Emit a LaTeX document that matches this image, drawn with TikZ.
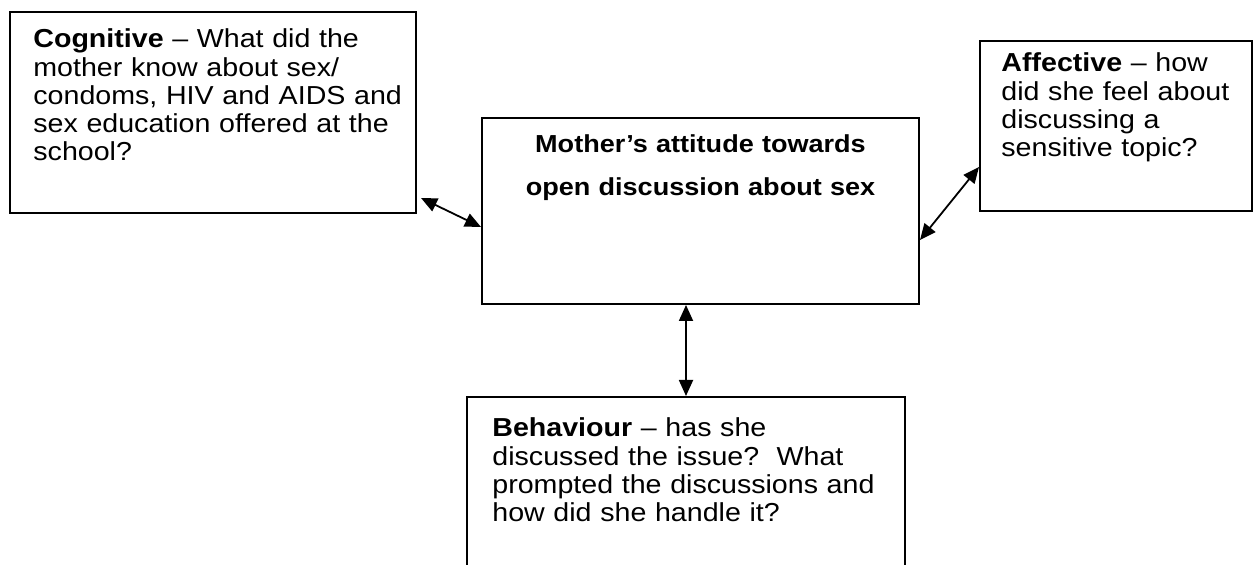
\documentclass[tikz,border=0pt]{standalone}
\usepackage{fontspec}
\setmainfont{Liberation Sans}[FakeStretch=1.1]
\usetikzlibrary{arrows.meta}
\begin{document}
\begin{tikzpicture}[x=0.5pt,y=-0.5pt,
  box/.style={draw, line width=1pt, inner sep=0pt},
  txt/.style={anchor=base west, inner sep=0pt, text width=215pt, align=left,
    font=\fontsize{13pt}{14.1pt}\selectfont},
  ctrtxt/.style={anchor=base, inner sep=0pt, text width=215pt, align=center,
    font=\bfseries\fontsize{12.3pt}{21.5pt}\selectfont},
  arr/.style={line width=0.9pt,
    arrows={Triangle[length=8pt,width=7pt]-Triangle[length=8pt,width=7pt]}}]
\useasboundingbox[fill=white] (0,0) rectangle (1253,565);
% boxes
\node[box, minimum width=203pt, minimum height=100.5pt] (cog) at (213,112.5) {};
\node[box, minimum width=218.5pt, minimum height=93pt] (ctr) at (700.5,211) {};
\node[box, minimum width=136pt, minimum height=85pt] (aff) at (1116,126) {};
\node[box, minimum width=219pt, minimum height=101.5pt] (beh) at (686,498.5) {};
% texts
\node[txt] (cogtxt) at (33,48) {\textbf{Cognitive} – What did the\\
mother know about sex/\\
condoms, HIV and AIDS and\\
sex education offered at the\\
school?};
\node[ctrtxt] (ctrtxt) at (700.5,153) {Mother’s attitude towards\\
open discussion about sex};
\node[txt] (afftxt) at (1001,72) {\textbf{Affective} – how\\
did she feel about\\
discussing a\\
sensitive topic?};
\node[txt] (behtxt) at (492,437) {\textbf{Behaviour} – has she\\
discussed the issue?\ \ What\\
prompted the discussions and\\
how did she handle it?};
% connectors
\draw[arr] ([shift={(4,-16)}]cog.south east) -- ([shift={(0,16)}]ctr.west);
\draw[arr] ([shift={(0,29)}]ctr.east) -- ([shift={(0,41)}]aff.west);
\draw[arr] (beh.north |- ctr.south) -- (beh.north);
\end{tikzpicture}
\end{document}
